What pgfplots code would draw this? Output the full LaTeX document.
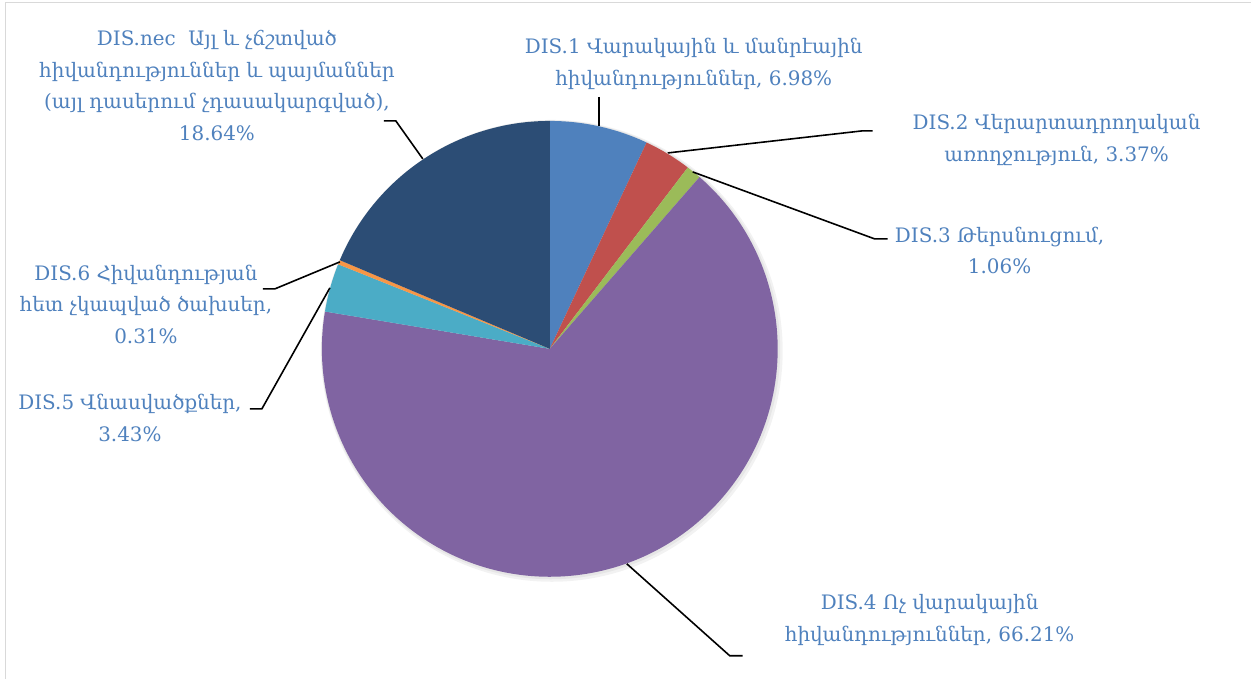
\documentclass[border=0pt]{standalone}
\usepackage{pgfplots}
\usepackage{pgfplotstable}
\pgfplotsset{compat=1.18}
\usepackage{fontspec}
\setmainfont{DejaVu Serif}
\definecolor{cA}{HTML}{4F81BD}
\definecolor{cB}{HTML}{C0504D}
\definecolor{cC}{HTML}{9BBB59}
\definecolor{cD}{HTML}{8064A2}
\definecolor{cE}{HTML}{4BACC6}
\definecolor{cF}{HTML}{F79646}
\definecolor{cG}{HTML}{2C4D75}
\definecolor{lbl}{HTML}{4F81BD}

\pgfplotstableread{
label value
DIS1 6.98
DIS2 3.37
DIS3 1.06
DIS4 66.21
DIS5 3.43
DIS6 0.31
DISnec 18.64
}\piedata

\newcommand\colname[1]{\ifcase#1 cA\or cB\or cC\or cD\or cE\or cF\or cG\fi}

\begin{document}
\begin{tikzpicture}
% cumulative angles
\gdef\cum{0}
\foreach \i in {0,...,6}{
  \pgfplotstablegetelem{\i}{value}\of\piedata
  \pgfmathsetmacro\s{90-\cum*3.6}
  \pgfmathsetmacro\newcum{\cum+\pgfplotsretval}
  \pgfmathsetmacro\e{90-\newcum*3.6}
  \expandafter\xdef\csname pieS\i\endcsname{\s}
  \expandafter\xdef\csname pieE\i\endcsname{\e}
  \xdef\cum{\newcum}
}
\begin{axis}[
  scale only axis, width=1251bp, height=679bp,
  xmin=0, xmax=1251, ymin=0, ymax=679,
  hide axis, clip=false,
]
\path (axis cs:0,0) (axis cs:1251,679);
\draw[black!15, line width=1pt] (axis cs:5.5,0) -- (axis cs:5.5,676.5) -- (axis cs:1251,676.5);
% soft shadow
\fill[black, opacity=0.05] (axis cs:552,328) circle[radius=231bp];
\fill[black, opacity=0.05] (axis cs:551,329) circle[radius=229.5bp];
\pgfplotsinvokeforeach{0,...,6}{
  \fill[\colname{#1}] (axis cs:550,330) -- ++(\csname pieS#1\endcsname:228bp)
     arc[start angle=\csname pieS#1\endcsname, end angle=\csname pieE#1\endcsname, radius=228bp] -- cycle;
}
% leader lines
\tikzset{ld/.style={black, line width=1.6pt}}
\draw[ld] (axis cs:599,582) -- (axis cs:599,553);
\draw[ld] (axis cs:668,526) -- (axis cs:862,548) -- (axis cs:873,548);
\draw[ld] (axis cs:693,507) -- (axis cs:875,440) -- (axis cs:888,440);
\draw[ld] (axis cs:627,115) -- (axis cs:730,23) -- (axis cs:743,23);
\draw[ld] (axis cs:330,391) -- (axis cs:262,270) -- (axis cs:250,270);
\draw[ld] (axis cs:340,417) -- (axis cs:275,390) -- (axis cs:263,390);
\draw[ld] (axis cs:423,520) -- (axis cs:396,558) -- (axis cs:384,558);
% labels
\tikzset{lab/.style={text=lbl, align=center, inner sep=0pt, font=\fontsize{20}{31.5}\selectfont}}
\node[lab] at (axis cs:217,593.5) {DIS.nec\ \ Այլ և չճշտված\\հիվանդություններ և պայմաններ\\(այլ դասերում չդասակարգված),\\18.64\%};
\node[lab] at (axis cs:694,615) {DIS.1 Վարակային և մանրէային\\հիվանդություններ, 6.98\%};
\node[lab] at (axis cs:1057,539) {DIS.2 Վերարտադրողական\\առողջություն, 3.37\%};
\node[lab] at (axis cs:1000,428.5) {DIS.3 Թերսնուցում,\\1.06\%};
\node[lab] at (axis cs:930,59) {DIS.4 Ոչ վարակային\\հիվանդություններ, 66.21\%};
\node[lab] at (axis cs:130,261) {DIS.5 Վնասվածքներ,\\3.43\%};
\node[lab] at (axis cs:146,374.5) {DIS.6 Հիվանդության\\հետ չկապված ծախսեր,\\0.31\%};
\end{axis}
\end{tikzpicture}
\end{document}
